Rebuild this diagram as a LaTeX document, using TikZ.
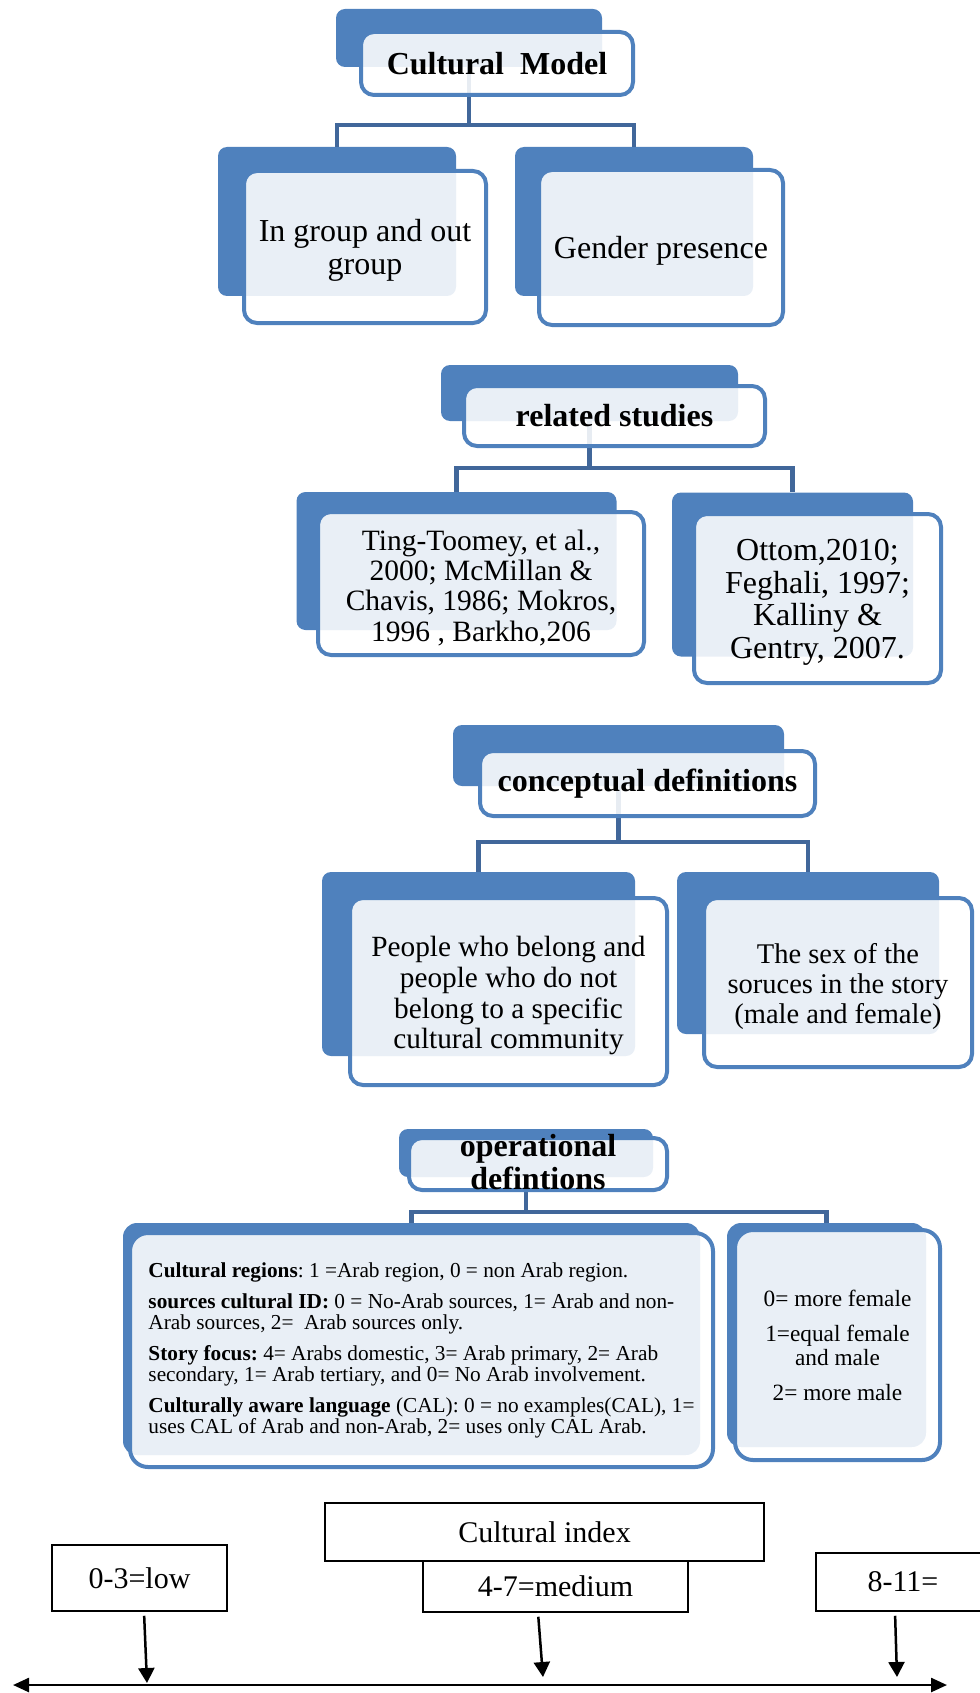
\documentclass[tikz,border=0pt]{standalone}
\usepackage{fontspec}
\setmainfont{Liberation Serif}
\frenchspacing
\usetikzlibrary{arrows.meta}
\definecolor{smBlue}{RGB}{79,129,189}
\definecolor{smLine}{RGB}{65,103,154}
\newcommand{\topgap}{\rule{0pt}{29pt}}

\begin{document}
\begin{tikzpicture}[x=1pt, y=-1pt,
  wh/.style 2 args={minimum width=#1, minimum height=#2},
  back/.style={fill=smBlue, rounded corners=9pt, inner sep=0pt},
  front/.style={draw=smBlue, line width=4pt, fill=white, fill opacity=0.88, text opacity=1,
                rounded corners=13pt, align=center, inner sep=0pt},
  hdr/.style={front, font=\fontsize{32}{33}\selectfont\bfseries},
  item/.style={front, font=\fontsize{32}{32.5}\selectfont},
  link/.style={draw=smLine, line width=4.5pt},
  plain/.style={draw, line width=1.5pt, inner sep=0pt, font=\fontsize{30}{32}\selectfont},
  ar/.style={-{Triangle[length=15pt,width=16pt]}, line width=2.5pt, shorten <=4pt},
  dar/.style={{Triangle[length=16pt,width=14pt]}-{Triangle[length=16pt,width=14pt]}, line width=2.5pt},
]
\useasboundingbox (0,0) rectangle (979,1693);

% ---- back plates ----------------------------------------------------------
\node[back, wh={266}{58}]  (cmB) at (469,38)     {};
\node[back, wh={238}{149}] (igB) at (337,221.5)  {};
\node[back, wh={238}{149}] (gpB) at (634,221.5)  {};
\node[back, wh={297}{56}]  (rsB) at (589.5,393)  {};
\node[back, wh={320}{138}] (tgB) at (456.5,561)  {};
\node[back, wh={241}{164}] (otB) at (792.5,574.5){};
\node[back, wh={331}{61}]  (cdB) at (618.5,755.5){};
\node[back, wh={313}{184}] (plB) at (478.5,964)  {};
\node[back, wh={262}{162}] (sxB) at (808,953)    {};
\node[back, wh={254}{48}]  (odB) at (526,1153)   {};
\node[back, wh={577}{232}, rounded corners=14pt] (crB) at (411.5,1339) {};
\node[back, wh={199}{224}, rounded corners=14pt] (gvB) at (826.5,1335) {};

% ---- tree links -----------------------------------------------------------
\coordinate (j1) at (469,125);
\coordinate (j2) at (589.5,468);
\coordinate (j3) at (618.5,842);
\coordinate (j4) at (526,1212);
\draw[link] (cmB.south) -- (j1);
\draw[link] (igB.north) |- (j1) -| (gpB.north);
\draw[link] (rsB.south) -- (j2);
\draw[link] (tgB.north) |- (j2) -| (otB.north);
\draw[link] (cdB.south) -- (j3);
\draw[link] (plB.north) |- (j3) -| (sxB.north);
\draw[link] (odB.south) -- (j4);
\draw[link] (crB.north) |- (j4) -| (gvB.north);

% ---- front cards ----------------------------------------------------------
\node[hdr, wh={272}{63}] (cmF) at (497,63.5) {Cultural\ \ Model};
\node[item, wh={242}{152}] (igF) at (365,247) {\topgap In group and out\\ group};
\node[item, wh={244}{155}] (gpF) at (661,247.5) {\topgap Gender presence};

\node[hdr, wh={301}{60}] (rsF) at (614.5,416) {related studies};
\node[item, wh={326}{143}, font=\fontsize{29.5}{30.3}\selectfont] (tgF) at (481,583.5)
  {\topgap Ting-Toomey, et al.,\\ 2000; McMillan \&\\ Chavis, 1986; Mokros,\\ 1996 , Barkho,206};
\node[item, wh={247}{169}] (otF) at (817.5,598.5)
  {\topgap Ottom,2010;\\ Feghali, 1997;\\ Kalliny \&\\ Gentry, 2007.};

\node[hdr, wh={335}{65}] (cdF) at (647.5,783.5) {conceptual definitions};
\node[item, wh={317}{187}, font=\fontsize{29.3}{30.6}\selectfont] (plF) at (508.5,991.5)
  {\topgap People who belong and\\ people who do not\\ belong to a specific\\ cultural community};
\node[item, wh={268}{169}, font=\fontsize{28.5}{30}\selectfont] (sxF) at (838,982.5)
  {\topgap The sex of the\\ soruces in the story\\ (male and female)};

\node[front, wh={258}{52}] (odF) at (538,1164) {};
\node[font=\fontsize{32}{33}\selectfont\bfseries, align=center] (odT) at (538,1162)
  {operational\\ defintions};
\node[front, wh={583}{234}, rounded corners=18pt, align=left,
      font=\fontsize{21.3}{20.5}\selectfont] (crF) at (421.5,1350)
  {\textbf{Cultural regions}: 1 =Arab region, 0 = non Arab region.\\[11pt]
   \textbf{sources cultural ID:} 0 = No-Arab sources, 1= Arab and non-\\
   Arab sources, 2=\ \ Arab sources only.\\[11pt]
   \textbf{Story focus:} 4= Arabs domestic, 3= Arab primary, 2= Arab\\
   secondary, 1= Arab tertiary, and 0= No Arab involvement.\\[11pt]
   \textbf{Culturally aware language} (CAL): 0 = no examples(CAL), 1=\\
   uses CAL of Arab and non-Arab, 2= uses only CAL Arab.};
\node[front, wh={205}{230}, rounded corners=18pt, font=\fontsize{23.3}{24}\selectfont]
  (gvF) at (837.5,1345)
  {0= more female\\[11pt] 1=equal female\\ and male\\[11pt] 2= more male};

% ---- cultural index scale -------------------------------------------------
\node[plain, wh={439}{58}] (ci) at (544.5,1532)  {Cultural index};
\node[plain, wh={265}{51}] (md) at (555.5,1586.5){4-7=medium};
\node[plain, wh={175}{66}] (lw) at (139.5,1578)  {0-3=low};
\node[plain, wh={174}{58}] (hi) at (903,1582)    {8-11=};

\coordinate (axL) at (13,1685);
\coordinate (axR) at (947,1685);
\coordinate (tlw) at (147,1683);
\coordinate (tmd) at (543,1677);
\coordinate (thi) at (897,1677);
\draw[dar] (axL) -- (axR);
\draw[ar] ([xshift=4.5pt]lw.south) -- (tlw);
\draw[ar] ([xshift=-17.5pt]md.south) -- (tmd);
\draw[ar] ([xshift=-8pt]hi.south) -- (thi);

\end{tikzpicture}
\end{document}
